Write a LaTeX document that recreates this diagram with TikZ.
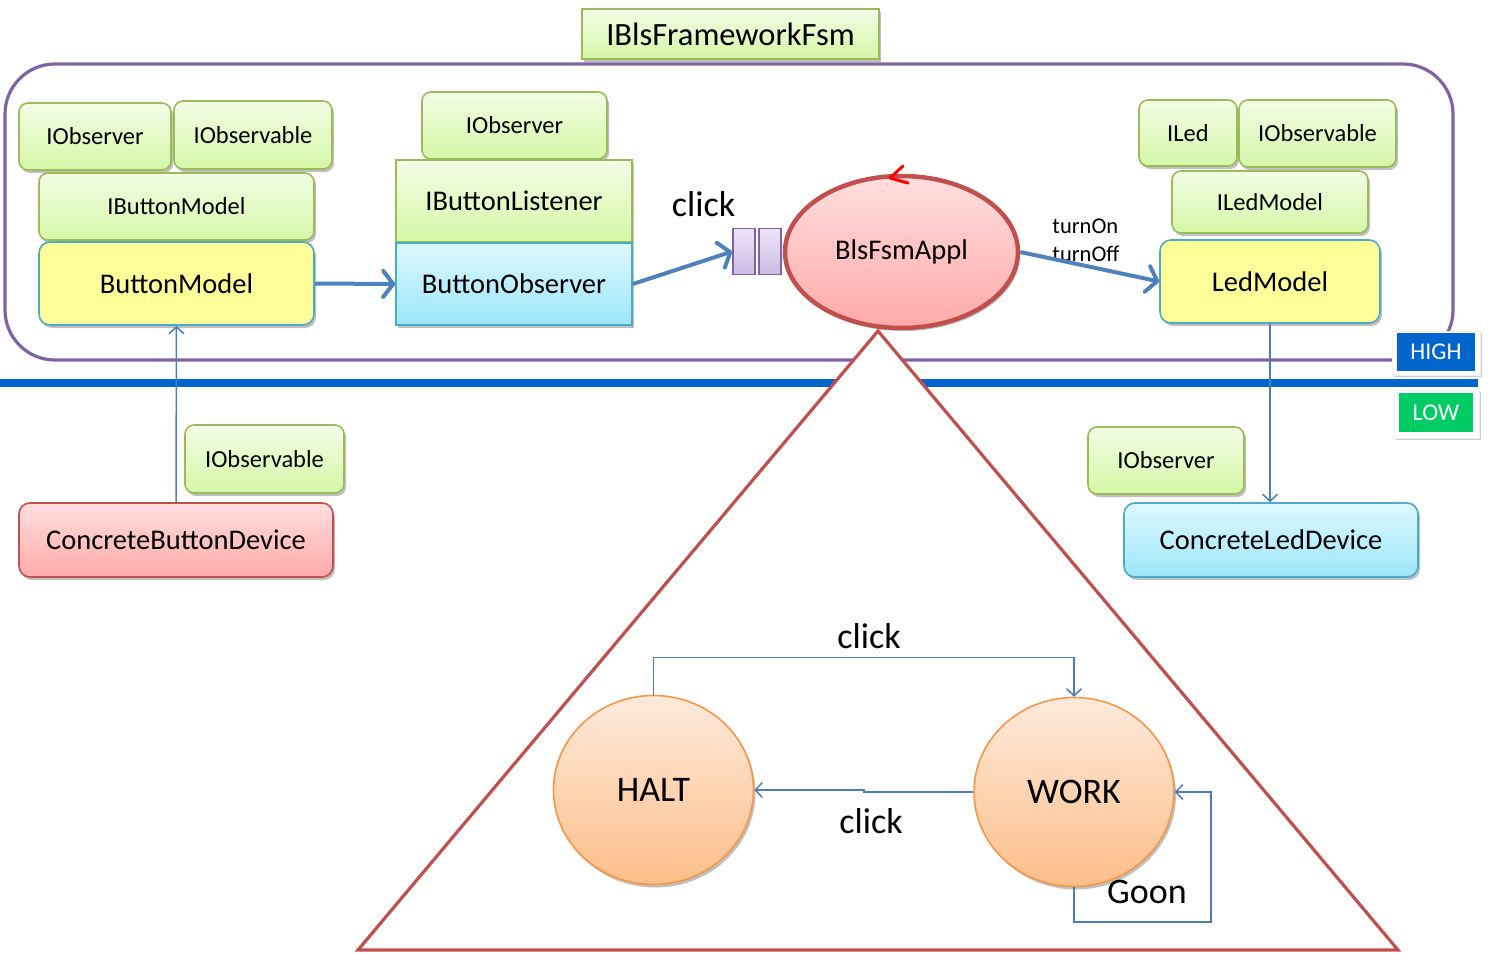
\documentclass[tikz,border=0pt]{standalone}
\usepackage{fontspec}
\setmainfont{Carlito}
\usetikzlibrary{shapes.geometric,arrows.meta,shadows}
\definecolor{grnTop}{HTML}{F3FCE6}
\definecolor{grnBot}{HTML}{D5F7A6}
\definecolor{grnLine}{HTML}{9BBB59}
\definecolor{yelFill}{HTML}{FFFF99}
\definecolor{cyTop}{HTML}{DDF8FE}
\definecolor{cyBot}{HTML}{9DE6FA}
\definecolor{cyLine}{HTML}{4BACC6}
\definecolor{redTop}{HTML}{FFDEDE}
\definecolor{redBot}{HTML}{FFA9A9}
\definecolor{redLine}{HTML}{C0504D}
\definecolor{orTop}{HTML}{FDEADB}
\definecolor{orBot}{HTML}{FCBE8A}
\definecolor{orLine}{HTML}{F79646}
\definecolor{purLine}{HTML}{8064A2}
\definecolor{quTop}{HTML}{EEE6F7}
\definecolor{quBot}{HTML}{CDB8E6}
\definecolor{arrBlue}{HTML}{4F81BD}
\definecolor{thinBlue}{HTML}{4A7EBB}
\definecolor{barBlue}{HTML}{0066CC}
\definecolor{lowGreen}{HTML}{00CC66}
\tikzset{
  softshadow/.style={drop shadow={shadow xshift=2pt,shadow yshift=-3pt,fill=black,opacity=0.25}},
  ifacebox/.style={draw=grnLine,line width=1.6pt,rounded corners=9pt,top color=grnTop,bottom color=grnBot,
    softshadow,font=\fontsize{24.5}{28}\selectfont,inner sep=0pt},
  ifacesq/.style={ifacebox,rounded corners=0pt},
  modelbox/.style={draw=cyLine,line width=1.6pt,rounded corners=11pt,fill=yelFill,softshadow,
    font=\fontsize{28.5}{32}\selectfont,inner sep=0pt},
  cyanbox/.style={draw=cyLine,line width=1.6pt,top color=cyTop,bottom color=cyBot,softshadow,
    font=\fontsize{28.5}{32}\selectfont,inner sep=0pt},
  devbox/.style={line width=1.6pt,rounded corners=11pt,softshadow,font=\fontsize{28.5}{32}\selectfont,inner sep=0pt},
  queuebox/.style={draw=purLine,line width=1.6pt,top color=quTop,bottom color=quBot,
    minimum width=22pt,minimum height=46pt,inner sep=0pt},
  statenode/.style={ellipse,draw=orLine,line width=1.6pt,top color=orTop,bottom color=orBot,softshadow,
    minimum width=200pt,minimum height=189pt,font=\fontsize{36}{40}\selectfont,inner sep=0pt},
  levelbox/.style={text=white,font=\fontsize{24}{28}\selectfont,inner sep=0pt},
  levelframe/.style={fill=white,draw=black!6,line width=0.8pt,
    drop shadow={shadow xshift=1.5pt,shadow yshift=-2pt,fill=black,opacity=0.2}},
  bigflow/.style={draw=arrBlue,line width=4pt,-{Straight Barb[length=10pt,width=26pt,line width=4pt,round]}},
  thinflow/.style={draw=thinBlue,line width=1.5pt,-{Straight Barb[length=7pt,width=15pt,line width=1.5pt]}},
  lbl/.style={inner sep=0pt,font=\fontsize{36}{40}\selectfont},
}
\begin{document}
\begin{tikzpicture}[x=1pt,y=-1pt]
\useasboundingbox (0,0) rectangle (1488,953);

% framework frame and level separator
\draw[purLine,line width=3.2pt,rounded corners=50pt] (5,64) rectangle (1453,360);
\draw[barBlue,line width=8pt] (0,383) -- (1478,383);

% title
\node[ifacesq,minimum width=297pt,minimum height=50pt,font=\fontsize{32.5}{36}\selectfont] (fw) at (730.5,34) {IBlsFrameworkFsm};

% state machine region
\draw[redLine,line width=3.2pt,fill=white,line join=miter] (878,331) -- (1398,950) -- (358,950) -- cycle;

% button side
\node[ifacebox,minimum width=152pt,minimum height=67pt] (obs1) at (95,136.5) {IObserver};
\node[ifacebox,minimum width=158pt,minimum height=68pt] (obl1) at (253,135) {IObservable};
\node[ifacebox,minimum width=275pt,minimum height=67pt] (ibm) at (176.5,206.5) {IButtonModel};
\node[modelbox,minimum width=275pt,minimum height=83pt] (bm) at (176.5,283.5) {ButtonModel};

\node[ifacebox,minimum width=185pt,minimum height=67pt] (obs2) at (514.5,125.5) {IObserver};
\node[ifacesq,minimum width=236pt,minimum height=82pt,font=\fontsize{28.5}{32}\selectfont] (ibl) at (514,201) {IButtonListener};
\node[cyanbox,minimum width=236pt,minimum height=82pt] (bo) at (514,284) {ButtonObserver};

% event queue and application
\node[queuebox] (q1) at (744,251.5) {};
\node[queuebox] (q2) at (770,251.5) {};
\node[lbl] (clk) at (703.5,204) {click};

\node[ellipse,draw=redLine,line width=4.5pt,top color=redTop,bottom color=redBot,softshadow,
  minimum width=233pt,minimum height=152pt,inner sep=0pt,font=\fontsize{28.5}{32}\selectfont] (app) at (901.5,252) {BlsFsmAppl};
\draw[red,line width=3pt,line join=round,line cap=round] (903,166) -- (890,178) -- (908,183);

% led side
\node[ifacebox,minimum width=98pt,minimum height=66pt] (iled) at (1188,133) {ILed};
\node[ifacebox,minimum width=157pt,minimum height=67pt] (obl2) at (1317.5,133.5) {IObservable};
\node[ifacebox,minimum width=196pt,minimum height=62pt] (ilm) at (1270,202) {ILedModel};
\node[modelbox,minimum width=220pt,minimum height=83pt] (led) at (1270,281.5) {LedModel};
\node[inner sep=0pt,align=left,font=\fontsize{22.5}{28}\selectfont] (toff) at (1086,240) {turnOn\\turnOff};

% levels
\node[levelframe,minimum width=88pt,minimum height=44pt] (hf) at (1436,353) {};
\node[levelbox,fill=barBlue,minimum width=78pt,minimum height=38pt] (high) at (1436,352) {HIGH};
\node[levelframe,minimum width=85pt,minimum height=48pt] (lf) at (1436.5,414) {};
\node[levelbox,fill=lowGreen,minimum width=74pt,minimum height=39pt] (low) at (1436,412.5) {LOW};

% concrete devices
\node[ifacebox,minimum width=159pt,minimum height=68pt] (obl3) at (264.5,459) {IObservable};
\node[devbox,draw=redLine,top color=redTop,bottom color=redBot,minimum width=314pt,minimum height=74pt] (cbd) at (176,540) {ConcreteButtonDevice};
\node[ifacebox,minimum width=156pt,minimum height=67pt] (obs3) at (1166,460.5) {IObserver};
\node[devbox,draw=cyLine,top color=cyTop,bottom color=cyBot,minimum width=294pt,minimum height=74pt] (cld) at (1271,540) {ConcreteLedDevice};

% flows
\draw[bigflow] (bm.east) -- (bo.west);
\draw[bigflow] (bo.east) -- (q1.west);
\draw[bigflow] (app.east) -- (led.west);
\draw[thinflow] (cbd.north) -- (bm.south);
\draw[thinflow] (led.south) -- (led.south |- cld.north);

% states
\node[statenode] (halt) at (653.5,790) {HALT};
\node[statenode] (work) at (1074,792) {WORK};
\node[lbl] (c1) at (869,636) {click};
\node[lbl] (c2) at (871,821) {click};
\node[lbl] (goon) at (1147,892) {Goon};
\coordinate (loop) at (1211,922);
\coordinate (mid) at (864,792);

\draw[thinflow] (halt.north) -- ++(0,-37) -| (work.north);
\draw[thinflow] (work.west) -- (mid) -- ++(0,-2) -- (halt.east);
\draw[thinflow] (work.south) |- (loop) |- (work.east);
\end{tikzpicture}
\end{document}
